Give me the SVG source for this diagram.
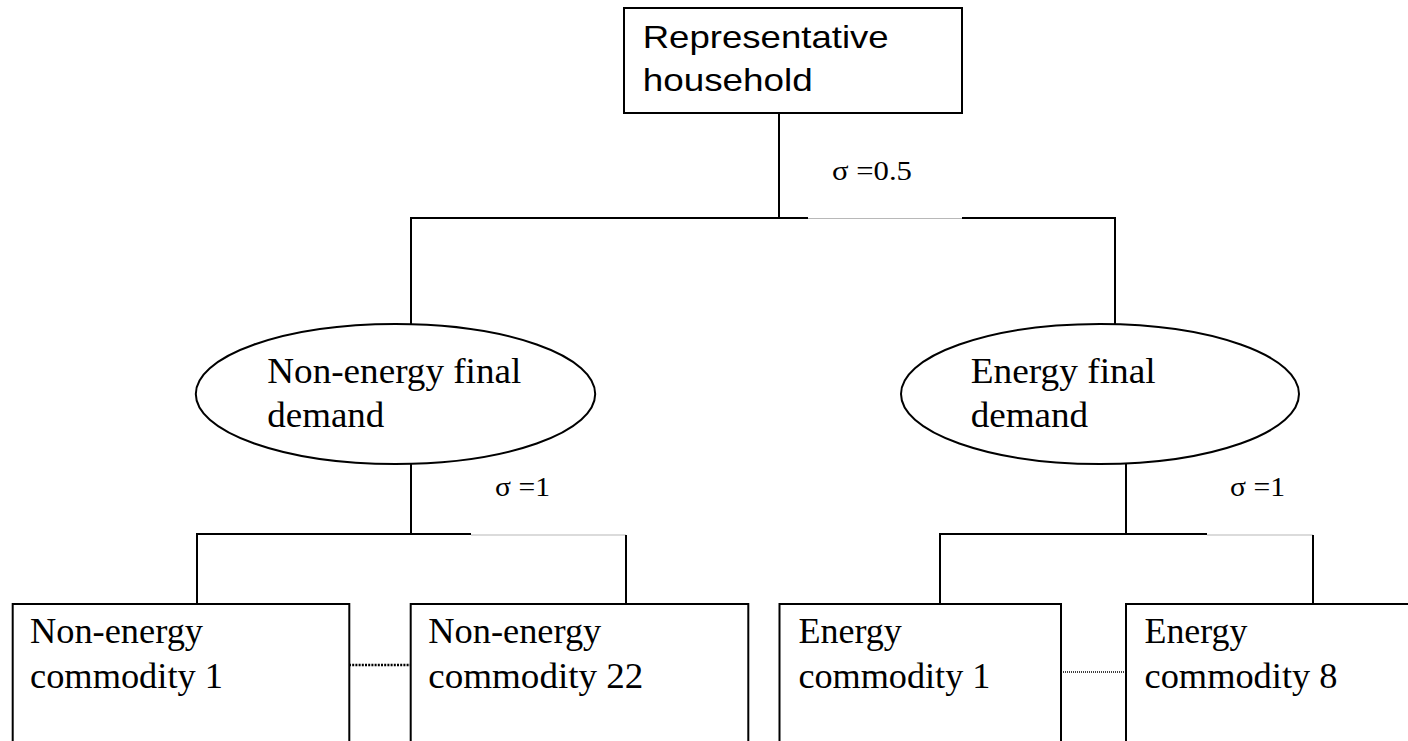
<svg xmlns="http://www.w3.org/2000/svg" width="1408" height="741" viewBox="0 0 1408 741">
<style>
.box{fill:#fff;stroke:#000;stroke-width:2}
.ln{stroke:#000;stroke-width:2;fill:none}
.gr{stroke:#b8b8b8;stroke-width:1.2;fill:none}
.ar{font-family:"Liberation Sans",Arial,sans-serif;font-size:32px;fill:#000}
.tm{font-family:"Liberation Serif","Times New Roman",serif;font-size:35px;fill:#000}
.sg{font-family:"Liberation Serif","Times New Roman",serif;font-size:27px;fill:#000}
</style>
<rect width="1408" height="741" fill="#fff"/>
<g id="connectors">
<line class="ln" x1="779" y1="113" x2="779" y2="218"/>
<line class="ln" x1="411" y1="218" x2="808" y2="218"/>
<line class="ln" x1="962" y1="218" x2="1115" y2="218"/>
<line class="gr" x1="808" y1="218.5" x2="962" y2="218.5"/>
<line class="ln" x1="411" y1="217" x2="411" y2="324"/>
<line class="ln" x1="1115" y1="217" x2="1115" y2="324"/>
<line class="ln" x1="411" y1="464" x2="411" y2="535"/>
<line class="ln" x1="197" y1="534" x2="471" y2="534"/>
<line class="gr" x1="471" y1="535" x2="626" y2="535"/>
<line class="ln" x1="197" y1="533" x2="197" y2="604"/>
<line class="ln" x1="626" y1="535" x2="626" y2="604"/>
<line class="ln" x1="1126" y1="464" x2="1126" y2="535"/>
<line class="ln" x1="940" y1="534" x2="1207" y2="534"/>
<line class="gr" x1="1207" y1="535" x2="1313" y2="535"/>
<line class="ln" x1="940" y1="533" x2="940" y2="604"/>
<line class="ln" x1="1313" y1="535" x2="1313" y2="604"/>
<line x1="349" y1="665" x2="411" y2="665" stroke="#000" stroke-width="2.5" stroke-dasharray="2 1.2"/>
<line x1="1061" y1="672" x2="1126" y2="672" stroke="#000" stroke-width="1.4" stroke-dasharray="1 1"/>
<text class="sg" x="832" y="180" textLength="80" lengthAdjust="spacingAndGlyphs">σ =0.5</text>
<text class="sg" x="495" y="496" textLength="55" lengthAdjust="spacingAndGlyphs">σ =1</text>
<text class="sg" x="1230" y="496" textLength="55" lengthAdjust="spacingAndGlyphs">σ =1</text>
</g>
<g id="household">
<rect class="box" x="624" y="8" width="338" height="105"/>
<text class="ar" x="642.7" y="48" textLength="246" lengthAdjust="spacingAndGlyphs">Representative</text>
<text class="ar" x="642.7" y="90.5" textLength="170" lengthAdjust="spacingAndGlyphs">household</text>
</g>
<g id="nonenergy-demand">
<ellipse class="box" cx="395.5" cy="394" rx="199.7" ry="70"/>
<text class="tm" x="267.3" y="382.7" textLength="254" lengthAdjust="spacingAndGlyphs">Non-energy final</text>
<text class="tm" x="267.3" y="427" textLength="117" lengthAdjust="spacingAndGlyphs">demand</text>
</g>
<g id="energy-demand">
<ellipse class="box" cx="1100" cy="394" rx="199" ry="70"/>
<text class="tm" x="970.7" y="382.7" textLength="185" lengthAdjust="spacingAndGlyphs">Energy final</text>
<text class="tm" x="970.7" y="427" textLength="117.5" lengthAdjust="spacingAndGlyphs">demand</text>
</g>
<g id="nonenergy-1">
<rect class="box" x="12.7" y="604" width="336.6" height="170"/>
<text class="tm" x="30" y="643.3" textLength="173" lengthAdjust="spacingAndGlyphs">Non-energy</text>
<text class="tm" x="30" y="688.3" textLength="193" lengthAdjust="spacingAndGlyphs">commodity 1</text>
</g>
<g id="nonenergy-22">
<rect class="box" x="410.7" y="604" width="337.6" height="170"/>
<text class="tm" x="428.3" y="643.3" textLength="173" lengthAdjust="spacingAndGlyphs">Non-energy</text>
<text class="tm" x="428.3" y="688.3" textLength="215" lengthAdjust="spacingAndGlyphs">commodity 22</text>
</g>
<g id="energy-1">
<rect class="box" x="779.5" y="604" width="281.5" height="170"/>
<text class="tm" x="798.4" y="643.3" textLength="103.5" lengthAdjust="spacingAndGlyphs">Energy</text>
<text class="tm" x="798.4" y="688.3" textLength="192" lengthAdjust="spacingAndGlyphs">commodity 1</text>
</g>
<g id="energy-8">
<rect class="box" x="1126" y="604" width="300" height="170"/>
<text class="tm" x="1144.5" y="643.3" textLength="103" lengthAdjust="spacingAndGlyphs">Energy</text>
<text class="tm" x="1144.5" y="688.3" textLength="193" lengthAdjust="spacingAndGlyphs">commodity 8</text>
</g>
</svg>
